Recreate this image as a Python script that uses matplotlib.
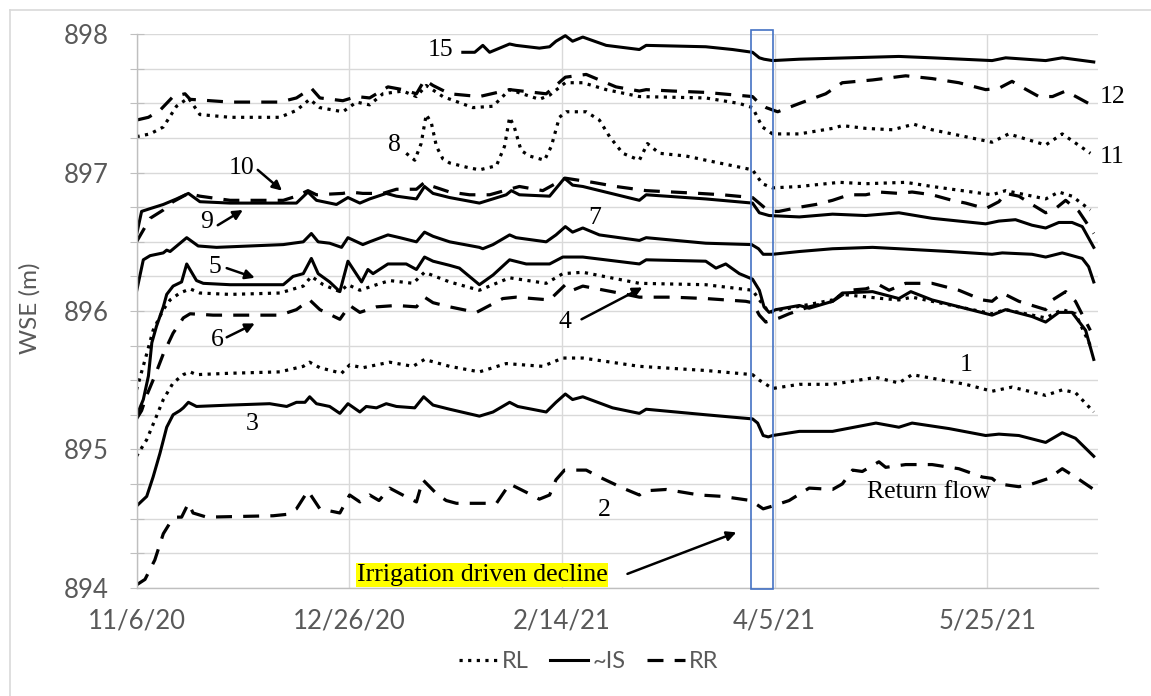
import datetime as dt
import matplotlib
matplotlib.use("Agg")
import matplotlib.pyplot as plt
import matplotlib.dates as mdates
from matplotlib.ticker import MultipleLocator, FixedLocator, FuncFormatter, NullFormatter
from matplotlib.lines import Line2D
from matplotlib.patches import Rectangle

# ---------------- data (days since 11/6/20, WSE in m) ----------------
START = dt.date(2020, 11, 6)
X_END_DAY = 226
TICK_DAYS = [0, 50, 100, 150, 200]

S1_DAYS = [0, 2.4, 4.7, 6.3, 8.6, 11, 12.6, 14.1, 22, 33.7, 39.2, 40.7, 43.1, 48.2, 50.1, 53.2, 59.5, 65, 67.7, 73.6,
           80.6, 86.9, 95.5, 100.2, 104.9, 118.2, 133.8, 144.8, 146.4, 149.5, 155.8, 163.6, 173.8, 179.2, 182.3, 194.9,
           201.1, 205.8, 213.7, 217.6, 220.7, 225]
S1_WSE = [894.95, 895.07, 895.24, 895.36, 895.48, 895.54, 895.56, 895.54, 895.55, 895.56, 895.60, 895.63, 895.59, 895.55,
          895.61, 895.59, 895.63, 895.60, 895.65, 895.60, 895.56, 895.62, 895.60, 895.66, 895.66, 895.60, 895.57, 895.54,
          895.50, 895.44, 895.47, 895.47, 895.52, 895.48, 895.54, 895.47, 895.42, 895.45, 895.39, 895.43, 895.41, 895.27]

S2_DAYS = [0, 2, 4.3, 6.3, 7.9, 9.4, 10.6, 12.2, 13.3, 16.5, 32.1, 35.3, 37.6, 40.3, 43.1, 47.8, 50.1, 52.5, 54.8, 57,
           59.5, 63.8, 65.8, 67.3, 70.5, 72.8, 75.2, 84.6, 87.7, 91.6, 94.7, 97.1, 98.6, 100.6, 105.7, 108.8, 114.3,
           118.2, 119.4, 124.5, 132.3, 137.7, 144.4, 147.3, 149.5, 153.4, 158.1, 163.6, 165.9, 168.3, 170.6, 174.5,
           176.1, 180.8, 187, 193.3, 198.8, 201.1, 202.7, 207.4, 210.5, 214.4, 217.6, 220.7, 225]
S2_WSE = [894.02, 894.06, 894.20, 894.39, 894.47, 894.51, 894.51, 894.61, 894.54, 894.51, 894.52, 894.53, 894.57, 894.70,
          894.57, 894.54, 894.67, 894.62, 894.67, 894.63, 894.72, 894.65, 894.62, 894.78, 894.68, 894.63, 894.61, 894.61,
          894.75, 894.69, 894.64, 894.67, 894.78, 894.85, 894.85, 894.80, 894.72, 894.67, 894.70, 894.71, 894.67, 894.66,
          894.63, 894.57, 894.59, 894.63, 894.72, 894.71, 894.75, 894.85, 894.84, 894.91, 894.87, 894.89, 894.89, 894.86,
          894.80, 894.79, 894.75, 894.73, 894.75, 894.79, 894.86, 894.80, 894.71]

S3_DAYS = [0, 2.4, 3.9, 5.5, 7.1, 8.6, 10.2, 11, 12.2, 14.1, 22, 31.3, 35.3, 37.6, 39.6, 40.7, 42.3, 45.4, 47.8, 49.7,
           52.5, 54, 56.4, 58.7, 61.1, 65.4, 67.5, 69.7, 73.6, 80.6, 83.8, 87.7, 89.6, 96.3, 98.6, 100.8, 102.5, 104.9,
           111.9, 118.2, 119.8, 133.8, 144.8, 146, 147.3, 148.5, 149.5, 155.8, 163.6, 173.8, 179.2, 182.3, 191, 199.6,
           202.7, 207.4, 213.7, 217.6, 220.7, 225]
S3_WSE = [894.59, 894.66, 894.80, 894.97, 895.16, 895.25, 895.28, 895.30, 895.34, 895.31, 895.32, 895.33, 895.31, 895.34,
          895.34, 895.38, 895.33, 895.31, 895.26, 895.33, 895.27, 895.31, 895.30, 895.33, 895.31, 895.30, 895.38, 895.32,
          895.29, 895.24, 895.27, 895.34, 895.31, 895.27, 895.34, 895.40, 895.36, 895.38, 895.30, 895.26, 895.29, 895.25,
          895.22, 895.19, 895.10, 895.09, 895.10, 895.13, 895.13, 895.19, 895.16, 895.19, 895.15, 895.10, 895.11, 895.10,
          895.05, 895.12, 895.08, 894.95]

S4_DAYS = [0, 2.4, 3.9, 6.3, 7.9, 10.2, 12.6, 14.9, 22, 33.7, 39.2, 41.1, 43.9, 47.8, 49.7, 52.5, 56.4, 59.5, 65, 67.7,
           73.6, 80.6, 87.7, 96.3, 100.2, 104.9, 118.2, 133.8, 144.8, 146.4, 148.7, 151.8, 163.6, 165.9, 175.3, 179.2,
           182.3, 187, 201.1, 204.3, 213.7, 217.6, 220.7, 224.2]
S4_WSE = [895.43, 895.69, 895.86, 896.01, 896.08, 896.13, 896.16, 896.13, 896.12, 896.13, 896.18, 896.25, 896.19, 896.14,
          896.19, 896.15, 896.19, 896.22, 896.20, 896.28, 896.21, 896.15, 896.24, 896.20, 896.27, 896.28, 896.20, 896.19,
          896.15, 896.08, 895.99, 896.01, 896.08, 896.12, 896.09, 896.08, 896.10, 896.07, 895.98, 896.01, 895.95, 896.01,
          895.98, 895.75]

S5_DAYS = [0, 1.6, 2.8, 3.6, 4.7, 6.3, 7.1, 8.6, 10.6, 11.8, 14.1, 15.7, 22, 34.5, 36.8, 39.2, 41.1, 42.7, 45.4, 47.8,
           49.7, 52.9, 54.4, 55.6, 59.1, 63.4, 65.8, 67.7, 69.7, 73.6, 75.9, 80.6, 83.8, 87.7, 91.6, 97.1, 100.2, 104.9,
           118.2, 119.8, 133.8, 136.2, 138.5, 141.7, 144.8, 146.4, 147.5, 148.7, 150.3, 155.8, 158.1, 163.6, 165.9, 173,
           179.2, 182, 187, 201.1, 204.3, 210.5, 213.7, 216.8, 219.9, 223.1, 225]
S5_WSE = [895.24, 895.36, 895.53, 895.77, 895.89, 896.03, 896.12, 896.18, 896.21, 896.34, 896.22, 896.20, 896.19, 896.19,
          896.25, 896.27, 896.38, 896.27, 896.21, 896.14, 896.36, 896.21, 896.30, 896.27, 896.34, 896.34, 896.30, 896.39,
          896.36, 896.33, 896.31, 896.19, 896.26, 896.37, 896.34, 896.34, 896.39, 896.39, 896.34, 896.37, 896.36, 896.31,
          896.34, 896.27, 896.23, 896.15, 896.03, 895.99, 896.01, 896.04, 896.02, 896.07, 896.13, 896.14, 896.09, 896.14,
          896.08, 895.97, 896.01, 895.96, 895.92, 895.99, 895.99, 895.86, 895.65]

S6_DAYS = [0, 1.2, 2.4, 4.3, 6.3, 8.6, 11, 12.6, 18, 33.7, 37.6, 40.7, 43.1, 47.8, 50.1, 52.5, 56.4, 61.1, 65.8, 67.7,
           69.7, 73.6, 79.9, 83, 86.1, 89.2, 97.1, 100.8, 102.5, 104.9, 115.1, 118.2, 126, 133.8, 138.5, 143.2, 144.8,
           146.4, 147.9, 151.1, 153.4, 158.1, 163.6, 167.5, 171.4, 174.5, 176.9, 180.8, 187, 193.3, 198.8, 201.1, 203.5,
           207.4, 213.7, 215.3, 218.4, 220.7, 224.2]
S6_WSE = [895.22, 895.28, 895.39, 895.53, 895.69, 895.84, 895.95, 895.98, 895.97, 895.97, 896.01, 896.08, 896.01, 895.94,
          896.04, 895.99, 896.03, 896.04, 896.03, 896.10, 896.06, 896.03, 895.99, 896.04, 896.09, 896.10, 896.08, 896.19,
          896.15, 896.18, 896.12, 896.10, 896.10, 896.09, 896.08, 896.07, 896.06, 895.97, 895.92, 895.95, 895.98, 896.03,
          896.07, 896.15, 896.16, 896.19, 896.15, 896.20, 896.20, 896.15, 896.08, 896.07, 896.13, 896.07, 896.01, 896.08,
          896.14, 896.07, 895.86]

S7_DAYS = [0, 1.6, 3.2, 6.3, 7.1, 7.9, 11.8, 14.5, 18.8, 34.5, 36.8, 39.2, 41.1, 42.7, 45.4, 48.2, 49.7, 53.2, 54.8,
           59.1, 61.9, 65.8, 67.7, 69.7, 73.6, 80.6, 81.4, 83.8, 87.7, 89.2, 96.3, 98.6, 100.8, 102.5, 104.9, 108.8,
           118.2, 119.8, 133.8, 144.6, 146.2, 147.3, 149.5, 155.8, 163.6, 173, 179.2, 191, 201.1, 203.5, 210.5, 213.7,
           217.6, 222.3, 223.8, 225]
S7_WSE = [896.14, 896.37, 896.40, 896.42, 896.44, 896.43, 896.53, 896.47, 896.46, 896.48, 896.49, 896.50, 896.56, 896.50,
          896.49, 896.46, 896.53, 896.48, 896.50, 896.55, 896.53, 896.50, 896.57, 896.54, 896.50, 896.46, 896.45, 896.48,
          896.55, 896.53, 896.50, 896.55, 896.61, 896.57, 896.60, 896.55, 896.51, 896.53, 896.49, 896.48, 896.45, 896.41,
          896.41, 896.43, 896.45, 896.46, 896.45, 896.43, 896.41, 896.42, 896.41, 896.39, 896.42, 896.38, 896.32, 896.21]

S8_DAYS = [63.4, 65.4, 66.9, 68.1, 69.3, 70.5, 72, 73.6, 77.5, 80.6, 84.6, 86.5, 87.7, 88.8, 90.4, 92.4, 95.9, 97.5,
           99.4, 101, 105.7, 108.8, 111.2, 114.3, 118.2, 120.1, 122.9, 129.2, 133.8, 141.7, 144.8, 147.1, 149.5, 155.8,
           165.2, 171.4, 180.8, 187, 201.1, 204.3, 213.7, 216.8, 219.9, 224.2]
S8_WSE = [897.14, 897.09, 897.21, 897.42, 897.36, 897.19, 897.10, 897.07, 897.04, 897.02, 897.05, 897.19, 897.40, 897.33,
          897.16, 897.12, 897.09, 897.19, 897.40, 897.44, 897.44, 897.38, 897.26, 897.14, 897.09, 897.21, 897.14, 897.12,
          897.09, 897.04, 897.02, 896.92, 896.89, 896.90, 896.93, 896.92, 896.93, 896.90, 896.84, 896.87, 896.81, 896.86,
          896.83, 896.73]

S9_DAYS = [0, 1.2, 3.2, 6.3, 9.4, 12.2, 14.9, 22, 37.6, 40.3, 42.3, 47, 49.7, 52.5, 54.8, 58.7, 61.1, 65.8, 67.7, 69.7,
           73.6, 80.6, 86.9, 88.1, 90, 97.1, 100.6, 102.5, 104.9, 118.2, 119.8, 133.8, 144.8, 146.4, 148.7, 155.8, 163.6,
           171.4, 179.2, 187, 199.6, 202.7, 206.6, 210.5, 213.7, 216.8, 219.9, 222.3, 225]
S9_WSE = [896.55, 896.72, 896.74, 896.77, 896.81, 896.85, 896.79, 896.78, 896.78, 896.86, 896.80, 896.77, 896.82, 896.78,
          896.81, 896.85, 896.83, 896.81, 896.90, 896.85, 896.82, 896.78, 896.84, 896.87, 896.84, 896.83, 896.96, 896.91,
          896.90, 896.80, 896.84, 896.81, 896.78, 896.71, 896.69, 896.68, 896.70, 896.69, 896.71, 896.67, 896.63, 896.65,
          896.66, 896.62, 896.60, 896.64, 896.64, 896.61, 896.46]

S10_DAYS = [0, 3.2, 6.3, 8.6, 12.2, 14.9, 22, 34.5, 37.6, 40.3, 42.3, 48.5, 50.1, 53.2, 57.9, 61.1, 65.8, 67.7, 69.7,
            73.6, 78.3, 83, 90, 95.5, 100.8, 107.2, 112.7, 119.8, 126, 132.3, 137.7, 144.8, 147.9, 149.5, 151, 155.8,
            159.7, 163.6, 167.5, 171.4, 174.5, 179.2, 182.3, 187, 191.7, 194.9, 199.6, 202.7, 204.3, 207.4, 210.5, 213.7,
            216, 218.4, 221.5, 225]
S10_WSE = [896.50, 896.67, 896.73, 896.79, 896.85, 896.83, 896.80, 896.80, 896.83, 896.87, 896.84, 896.85, 896.86,
           896.85, 896.85, 896.88, 896.88, 896.93, 896.90, 896.86, 896.84, 896.84, 896.90, 896.87, 896.96, 896.93, 896.90,
           896.87, 896.86, 896.85, 896.84, 896.82, 896.74, 896.72, 896.72, 896.75, 896.77, 896.80, 896.84, 896.84, 896.86,
           896.85, 896.86, 896.84, 896.80, 896.78, 896.74, 896.79, 896.85, 896.83, 896.77, 896.71, 896.74, 896.80, 896.72,
           896.56]

S11_DAYS = [0, 3.2, 6.3, 9.4, 12.2, 14.9, 22, 33.7, 37.6, 40.7, 43.1, 48.5, 51.7, 54.8, 57.9, 62.6, 65.8, 68.1, 72,
            79.1, 83.8, 87.7, 94.7, 97.1, 100.8, 104.9, 110.4, 118.2, 133.8, 141.7, 144.8, 147.1, 149.5, 155.8, 163.6,
            165.9, 171.4, 177.7, 182.7, 187, 201.1, 205, 213.7, 217.6, 224.2]
S11_WSE = [897.26, 897.28, 897.33, 897.48, 897.54, 897.42, 897.40, 897.40, 897.45, 897.53, 897.47, 897.44, 897.51,
           897.49, 897.57, 897.59, 897.55, 897.63, 897.55, 897.47, 897.48, 897.60, 897.53, 897.56, 897.65, 897.65, 897.60,
           897.55, 897.54, 897.50, 897.47, 897.33, 897.28, 897.28, 897.32, 897.34, 897.32, 897.31, 897.35, 897.31, 897.22,
           897.28, 897.20, 897.28, 897.14]

S12_DAYS = [0, 2.8, 5.5, 8.6, 11.4, 12.6, 22, 33.7, 37.6, 41.1, 43.1, 48.5, 51.7, 54.8, 59.1, 62.6, 65.8, 67.7, 69.7,
            73.6, 80.6, 87.7, 96.3, 100.8, 105.7, 112.7, 118.2, 119.8, 126, 133.8, 144.8, 146.4, 148, 150.7, 155.8, 162,
            165.9, 173, 180.8, 187, 193.3, 199.6, 202.7, 205.8, 207.4, 212.1, 215.3, 218.4, 225]
S12_WSE = [897.38, 897.40, 897.45, 897.55, 897.57, 897.53, 897.51, 897.51, 897.54, 897.61, 897.54, 897.52, 897.55,
           897.54, 897.62, 897.60, 897.57, 897.67, 897.63, 897.57, 897.55, 897.60, 897.57, 897.69, 897.71, 897.62, 897.59,
           897.60, 897.59, 897.58, 897.55, 897.50, 897.47, 897.44, 897.50, 897.57, 897.65, 897.67, 897.70, 897.68, 897.65,
           897.60, 897.61, 897.66, 897.63, 897.55, 897.55, 897.59, 897.48]

S15_DAYS = [76.7, 79.5, 81.4, 83, 87.7, 89.2, 94.7, 97.1, 98.6, 100.8, 102.5, 104.9, 110.4, 118.2, 119.8, 133.8, 140.1,
            144.8, 146.4, 147.5, 149.5, 155.8, 167.5, 179.2, 187, 201.1, 204.3, 213.7, 217.6, 225]
S15_WSE = [897.87, 897.87, 897.92, 897.87, 897.93, 897.92, 897.90, 897.91, 897.95, 897.99, 897.95, 897.98, 897.92,
           897.89, 897.92, 897.91, 897.89, 897.87, 897.83, 897.82, 897.81, 897.82, 897.83, 897.84, 897.83, 897.81, 897.83,
           897.81, 897.83, 897.80]

SERIES = [  # (days, wse, group)
    (S1_DAYS, S1_WSE, "RL"), (S4_DAYS, S4_WSE, "RL"), (S8_DAYS, S8_WSE, "RL"), (S11_DAYS, S11_WSE, "RL"),
    (S3_DAYS, S3_WSE, "~IS"), (S5_DAYS, S5_WSE, "~IS"), (S7_DAYS, S7_WSE, "~IS"), (S9_DAYS, S9_WSE, "~IS"),
    (S15_DAYS, S15_WSE, "~IS"),
    (S2_DAYS, S2_WSE, "RR"), (S6_DAYS, S6_WSE, "RR"), (S10_DAYS, S10_WSE, "RR"), (S12_DAYS, S12_WSE, "RR"),
]
LEGEND_ORDER = ["RL", "~IS", "RR"]

# number labels: (text, day, wse)
NUM_LABELS = [("15", 71.5, 897.89), ("12", 229.5, 897.55), ("11", 229.2, 897.11), ("8", 60.7, 897.20),
              ("10", 24.8, 897.03), ("9", 16.5, 896.64), ("7", 107.6, 896.67), ("5", 18.4, 896.32),
              ("6", 18.9, 895.79), ("4", 100.6, 895.92), ("1", 195.0, 895.61), ("3", 27.1, 895.18),
              ("2", 110.0, 894.56)]
# arrows: (from_day, from_wse, to_day, to_wse)
ARROWS = [(28.5, 897.02, 34.2, 896.87), (19.1, 896.62, 25.0, 896.73), (21.2, 896.31, 27.8, 896.24),
          (21.2, 895.81, 27.8, 895.91), (104.6, 895.94, 118.9, 896.17), (115.4, 894.10, 141.0, 894.40)]
WINDOW = (144.5, 149.7, 893.99, 898.03)

# ---------------- drawing ----------------
base = mdates.date2num(START)


def xd(days):
    return [base + d for d in days]


STYLES = {
    "RL": dict(linestyle=(0, (1, 1.7)), linewidth=2.3),
    "~IS": dict(linestyle="-", linewidth=2.2),
    "RR": dict(linestyle=(0, (5, 3.5)), linewidth=2.3),
}

W, H = 1151, 696
fig = plt.figure(figsize=(W / 100, H / 100), dpi=100)
ax = fig.add_axes([136.5 / W, 1 - 587.7 / H, (1098 - 136.5) / W, (587.7 - 34.3) / H])

handles = {}
for days, wse, grp in SERIES:
    ln, = ax.plot(xd(days), wse, color="black", solid_joinstyle="round", **STYLES[grp])
    handles.setdefault(grp, ln)

ax.set_xlim(base, base + X_END_DAY)
ax.set_ylim(894, 898)

ax.xaxis.set_major_locator(FixedLocator(xd(TICK_DAYS)))
ax.xaxis.set_major_formatter(FuncFormatter(
    lambda v, p: (lambda d: f"{d.month}/{d.day}/{d.year % 100}")(mdates.num2date(v))))
ax.yaxis.set_major_locator(MultipleLocator(1))
ax.yaxis.set_minor_locator(MultipleLocator(0.25))
ax.yaxis.set_minor_formatter(NullFormatter())

grid_c = "#d9d9d9"
ax.grid(True, which="major", axis="x", color=grid_c, lw=1.0)
ax.grid(True, which="both", axis="y", color=grid_c, lw=1.0)
ax.set_axisbelow(True)
for s in ["top", "right"]:
    ax.spines[s].set_visible(False)
for s in ["left", "bottom"]:
    ax.spines[s].set_color("#bfbfbf")
    ax.spines[s].set_linewidth(1.0)

ax.tick_params(axis="x", length=0, pad=15, labelsize=18.5, labelcolor="#595959")
ax.tick_params(axis="y", which="both", direction="inout", length=9.4, width=0.8, color="#bfbfbf",
               pad=15.5, labelsize=18.5, labelcolor="#595959")
for lab in ax.get_xticklabels() + ax.get_yticklabels():
    lab.set_family("Lato")

fig.text(30 / W, 1 - 308 / H, "WSE (m)", rotation=90, ha="center", va="center",
         fontsize=17.5, color="#595959", family="Lato")

# legend
leg = fig.legend([handles[k] for k in LEGEND_ORDER], LEGEND_ORDER, loc="center",
                 bbox_to_anchor=(589 / W, 1 - 662 / H), ncol=3, frameon=False,
                 prop=dict(family="Lato", size=17), labelcolor="#595959",
                 handlelength=1.6, handletextpad=0.2, columnspacing=0.9)

serif = dict(family="Liberation Serif", size=18.5, color="black")
for txt, d, w in NUM_LABELS:
    ax.text(base + d, w, txt, ha="center", va="center", clip_on=False, **serif)

ax.text(base + 186.3, 894.69, "Return flow", ha="center", va="center", **serif)
ax.text(base + 51.8, 894.09, "Irrigation driven decline", ha="left", va="center",
        bbox=dict(facecolor="yellow", edgecolor="none", pad=0.5), **serif)

for fd, fw, td, tw in ARROWS:
    ax.annotate("", xy=(base + td, tw), xytext=(base + fd, fw),
                arrowprops=dict(arrowstyle="-|>", color="black", lw=1.8, mutation_scale=14,
                                shrinkA=0, shrinkB=0))

x0, x1, y0, y1 = WINDOW
ax.add_patch(Rectangle((base + x0, y0), x1 - x0, y1 - y0, fill=False, edgecolor="#4472C4",
                       lw=1.2, clip_on=False, zorder=5))

# chart border (Excel chart area)
fig.add_artist(Line2D([10 / W, 1], [1 - 10 / H, 1 - 10 / H], color=grid_c, lw=1.2))
fig.add_artist(Line2D([10 / W, 10 / W], [0, 1 - 10 / H], color=grid_c, lw=1.2))

fig.savefig("out.png", dpi=100)
